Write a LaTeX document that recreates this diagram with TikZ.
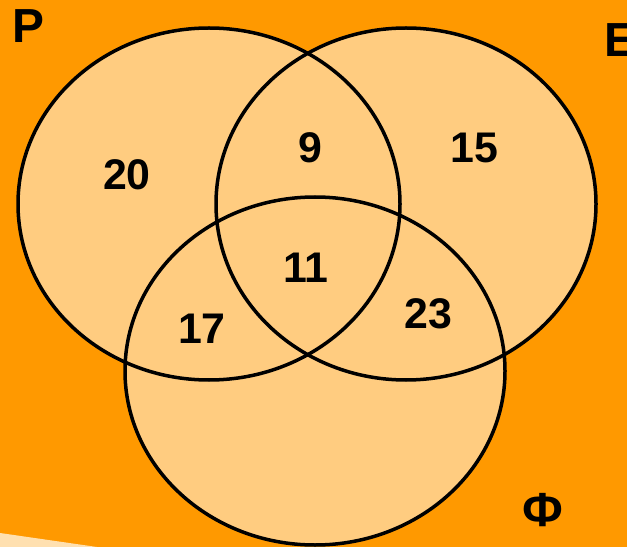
\documentclass[tikz,border=0pt]{standalone}
\usepackage{fontspec}
\setmainfont{Liberation Sans}
\usepackage{tikz}
\usetikzlibrary{positioning}
\definecolor{bgorange}{RGB}{255,153,0}
\definecolor{setfill}{RGB}{255,204,128}
\definecolor{paleband}{RGB}{255,224,176}
\definecolor{inkblack}{RGB}{0,0,0}

\begin{document}
\begin{tikzpicture}[x=1bp, y=-1bp, every node/.style={font=\fontsize{43}{43}\selectfont\bfseries, text=inkblack},
    setline/.style={draw=inkblack, line width=3.5bp},
    setname/.style={font=\fontsize{48}{48}\selectfont\bfseries}]
            % Background
            \fill[bgorange] (0,0) rectangle (627,547);
            \fill[paleband] (0,533) -- (97,547) -- (0,547) -- cycle;
            \useasboundingbox (0,0) rectangle (627,547);

            % Sets
            \fill[setfill] (209,204) ellipse [x radius=191, y radius=176];
            \fill[setfill] (406,204) ellipse [x radius=190, y radius=176];
            \fill[setfill] (315,371) ellipse [x radius=190, y radius=174];
            \draw[setline] (209,204) ellipse [x radius=191, y radius=176];
            \draw[setline] (406,204) ellipse [x radius=190, y radius=176];
            \draw[setline] (315,371) ellipse [x radius=190, y radius=174];

            % Set names
            \node[setname] (nameP) at (28,26) {Р};
            \node[setname] (nameE) at (620,40) {Е};
            \node[setname] (namePhi) at (543,510) {Ф};

            % Counts
            \node (onlyP) at (127,175) {20};
            \node (PE) at (310,148) {9};
            \node (onlyE) at (474,148) {15};
            \node (PEPhi) at (306,268) {11};
            \node (PPhi) at (202,329) {17};
            \node (EPhi) at (428,314) {23};
        \end{tikzpicture}
\end{document}
